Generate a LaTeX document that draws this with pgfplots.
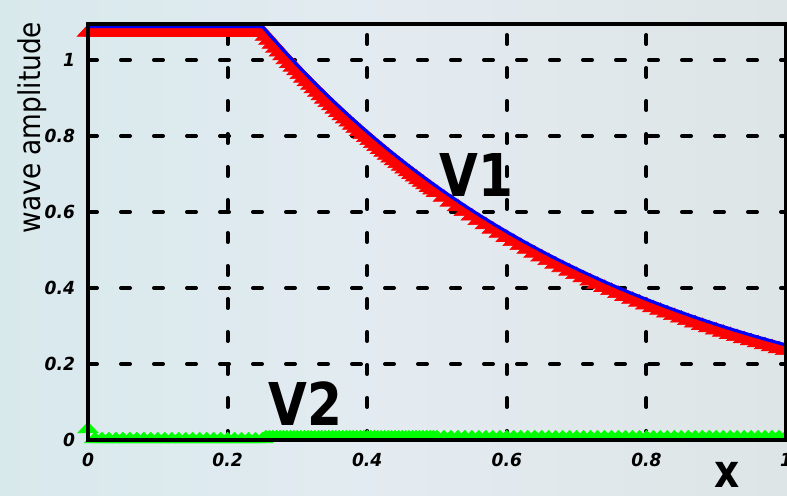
\documentclass[border=0pt]{standalone}
\usepackage{pgfplots}
\pgfplotsset{compat=1.18}
\usepackage{pgfplotstable}
\usepackage{fontspec}
\setmainfont{DejaVu Sans}
\newfontfamily\tickfont{DejaVu Sans}[FakeStretch=0.95]
\newfontfamily\lblfont{DejaVu Sans}[FakeStretch=0.85]
\newfontfamily\ylfont{DejaVu Sans}[FakeStretch=0.88]
\definecolor{bgA}{HTML}{D8E9EC}
\definecolor{bgB}{HTML}{DDE5E6}
\definecolor{bgC}{HTML}{E3EBF1}
\definecolor{vred}{RGB}{255,0,0}
\definecolor{vblue}{RGB}{0,0,255}
\definecolor{vgreen}{RGB}{0,255,0}

\pgfplotstableread{
x v1 v2
0.00 1.088 0.028
0.01 1.088 0.002
0.02 1.088 0.002
0.03 1.088 0.002
0.04 1.088 0.002
0.05 1.088 0.002
0.06 1.088 0.002
0.07 1.088 0.002
0.08 1.088 0.002
0.09 1.088 0.002
0.10 1.088 0.002
0.11 1.088 0.002
0.12 1.088 0.002
0.13 1.088 0.002
0.14 1.088 0.002
0.15 1.088 0.002
0.16 1.088 0.002
0.17 1.088 0.002
0.18 1.088 0.002
0.19 1.088 0.002
0.20 1.088 0.002
0.21 1.088 0.002
0.22 1.088 0.002
0.23 1.088 0.002
0.24 1.088 0.002
0.25 1.088 0.002
0.255 1.0774 0.007
0.26 1.0669 0.007
0.265 1.0565 0.007
0.27 1.0462 0.007
0.275 1.0360 0.007
0.28 1.0259 0.007
0.285 1.0159 0.007
0.29 1.0060 0.007
0.295 0.9962 0.007
0.30 0.9864 0.007
0.305 0.9768 0.007
0.31 0.9673 0.007
0.315 0.9579 0.007
0.32 0.9485 0.007
0.325 0.9393 0.007
0.33 0.9301 0.007
0.335 0.9210 0.007
0.34 0.9120 0.007
0.345 0.9031 0.007
0.35 0.8943 0.007
0.355 0.8856 0.007
0.36 0.8770 0.007
0.365 0.8684 0.007
0.37 0.8600 0.007
0.375 0.8516 0.007
0.38 0.8433 0.007
0.385 0.8351 0.007
0.39 0.8269 0.007
0.395 0.8188 0.007
0.40 0.8109 0.007
0.405 0.8030 0.007
0.41 0.7951 0.007
0.415 0.7873 0.007
0.42 0.7797 0.007
0.425 0.7721 0.007
0.43 0.7645 0.007
0.435 0.7570 0.007
0.44 0.7497 0.007
0.445 0.7424 0.007
0.45 0.7352 0.007
0.455 0.7280 0.007
0.46 0.7209 0.007
0.465 0.7139 0.007
0.47 0.7069 0.007
0.475 0.7000 0.007
0.48 0.6932 0.007
0.485 0.6864 0.007
0.49 0.6797 0.007
0.495 0.6731 0.007
0.50 0.6665 0.007
0.51 0.6536 0.007
0.52 0.6409 0.007
0.53 0.6285 0.007
0.54 0.6163 0.007
0.55 0.6043 0.007
0.56 0.5926 0.007
0.57 0.5811 0.007
0.58 0.5698 0.007
0.59 0.5587 0.007
0.60 0.5479 0.007
0.61 0.5373 0.007
0.62 0.5268 0.007
0.63 0.5166 0.007
0.64 0.5066 0.007
0.65 0.4967 0.007
0.66 0.4871 0.007
0.67 0.4777 0.007
0.68 0.4684 0.007
0.69 0.4593 0.007
0.70 0.4504 0.007
0.71 0.4416 0.007
0.72 0.4331 0.007
0.73 0.4247 0.007
0.74 0.4164 0.007
0.75 0.4083 0.007
0.76 0.4004 0.007
0.77 0.3926 0.007
0.78 0.3850 0.007
0.79 0.3776 0.007
0.80 0.3702 0.007
0.81 0.3630 0.007
0.82 0.3560 0.007
0.83 0.3491 0.007
0.84 0.3423 0.007
0.85 0.3357 0.007
0.86 0.3291 0.007
0.87 0.3228 0.007
0.88 0.3165 0.007
0.89 0.3103 0.007
0.90 0.3043 0.007
0.91 0.2984 0.007
0.92 0.2926 0.007
0.93 0.2869 0.007
0.94 0.2814 0.007
0.95 0.2759 0.007
0.96 0.2706 0.007
0.97 0.2653 0.007
0.98 0.2602 0.007
0.99 0.2551 0.007
1.00 0.2502 0.007
}\datatable

\begin{document}
\begin{tikzpicture}
\shade[left color=bgA, right color=bgB, middle color=bgC] (-44pt,-28pt) rectangle (349.5pt,220pt);
\begin{axis}[
  scale only axis, width=349pt, height=208pt,
  xmin=0, xmax=1, ymin=0, ymax=1.095,
  clip=false, clip marker paths=true,
  axis line style={line width=2.2pt, black},
  xtick={0,0.2,0.4,0.6,0.8,1}, ytick={0,0.2,0.4,0.6,0.8,1},
  major tick length=0pt,
  grid=major,
  major grid style={black, line width=2pt, dash pattern=on 4.5pt off 12pt, line cap=round},
  tick label style={font=\tickfont\bfseries\itshape\fontsize{9}{10}\selectfont},
  /pgf/number format/assume math mode=true,
  xticklabel style={yshift=-3pt},
  yticklabel style={xshift=-3pt},
  xlabel={x}, ylabel={wave amplitude},
  every axis x label/.style={at={(axis description cs:0.915,-0.084)}, anchor=center, font=\lblfont\bfseries\fontsize{23}{26}\selectfont},
  every axis y label/.style={at={(axis description cs:-0.080,0.751)}, rotate=90, anchor=center, font=\ylfont\fontsize{15}{18}\selectfont},
]
\addplot[only marks, mark=triangle*, mark size=3.9pt, mark options={fill=vred, draw=vred, line width=0.3pt, xscale=1.6, yshift=-2.9pt}] table[x=x,y=v1]{\datatable};
\addplot[vblue, line width=1.6pt, mark=none] table[x=x,y=v1]{\datatable};
\addplot[only marks, mark=triangle*, mark size=3.5pt, mark options={fill=vgreen, draw=vgreen, line width=0.3pt, xscale=1.7}] table[x=x,y=v2]{\datatable};
\node[font=\lblfont\bfseries\fontsize{29.5}{32}\selectfont] at (axis cs:0.557,0.698) {V1};
\node[font=\lblfont\bfseries\fontsize{29.5}{32}\selectfont] at (axis cs:0.311,0.096) {V2};
\end{axis}
\begin{axis}[
  scale only axis, width=349pt, height=208pt,
  xmin=0, xmax=1, ymin=0, ymax=1.095,
  xtick=\empty, ytick=\empty,
  axis line style={line width=2.2pt, black},
]
\end{axis}
\pgfresetboundingbox
\useasboundingbox (-44pt,-28pt) rectangle (349.5pt,220pt);
\end{tikzpicture}
\end{document}
